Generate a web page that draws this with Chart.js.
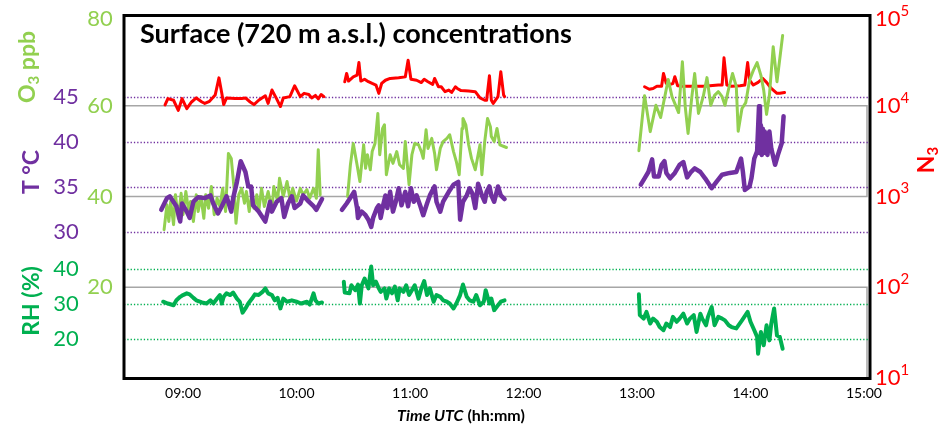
<!DOCTYPE html>
<html>
<head>
<meta charset="utf-8">
<script src="https://cdn.jsdelivr.net/npm/chart.js@4.4.0/dist/chart.umd.min.js"></script>
<style>
  html, body { margin: 0; padding: 0; background: #fff; }
  #wrap { width: 945px; height: 430px; }
</style>
</head>
<body>
<div id="wrap"><canvas id="chart" width="945" height="430"></canvas></div>
<script>
// ---- data (times UTC, null value = gap between flight legs) ----
const n3Times = [
  '08:50:30','08:52:00','08:55:00','08:57:30','08:59:30','09:02:00','09:04:30','09:07:00','09:10:00','09:11:30',
  '09:14:00','09:17:00','09:19:00','09:20:30','09:21:30','09:23:00','09:27:30','09:31:00','09:33:00','09:35:30',
  '09:37:30','09:40:00','09:43:30','09:45:00','09:47:00','09:49:30','09:51:30','09:53:00','09:56:30','09:59:00',
  '10:02:00','10:04:00','10:06:30','10:08:00','10:10:00','10:11:30','10:13:00','10:14:30',
  '10:20:00',
  '10:25:30','10:26:30','10:27:30','10:30:00','10:32:00','10:33:00','10:34:00','10:36:00','10:38:00','10:40:00',
  '10:42:00','10:43:30','10:45:00','10:47:00','10:49:30','10:54:00','10:57:30','10:59:00','11:00:30','11:03:30',
  '11:06:00','11:07:30','11:09:30','11:12:00','11:13:00','11:15:00','11:16:30','11:18:30','11:20:30','11:22:00',
  '11:24:00','11:25:00','11:27:00','11:31:00','11:34:30','11:37:00','11:39:30','11:40:30','11:42:00','11:43:00',
  '11:44:00','11:46:30','11:48:00','11:49:30','11:50:00',
  '12:30:00',
  '13:04:00','13:06:30','13:08:30','13:10:30','13:13:00','13:14:00','13:15:30','13:17:00','13:19:00','13:20:00',
  '13:21:30','13:24:30','13:28:00','13:31:30','13:35:00','13:38:30','13:43:00','13:45:00','13:46:00','13:47:30',
  '13:50:00','13:54:30','13:57:00','13:58:30','13:59:30','14:01:30','14:04:00','14:06:30','14:08:30','14:11:00',
  '14:14:00','14:15:30','14:18:00'
];
const n3Values = [
  10200,12000,11500,8900,12000,9300,11000,12200,11000,10600,
  11200,13100,20300,13700,10300,12200,12000,12000,12200,11000,
  10300,11500,12900,10600,14900,11900,9800,12200,12600,16600,
  12600,13700,13300,12200,13000,11900,13300,12600,
  null,
  18400,22700,18700,20800,21700,29900,18700,19600,18400,17600,
  16900,13700,17600,19100,20000,20300,20800,31700,19600,19100,
  18000,19600,18400,17200,20000,16200,16200,14300,14900,14000,
  16200,15500,14700,14500,14300,12200,11500,11500,21400,11500,
  10600,12600,23700,13100,12600,
  null,
  16200,15200,15500,16400,16400,22700,17600,17100,17600,20900,
  16600,16400,16400,16400,16400,16600,16900,16900,33700,16900,
  16400,16600,16900,29900,19200,16900,18100,20000,18100,15500,
  13700,13700,14000
];

const o3Times = [
  '08:50:00','08:51:30','08:52:30','08:53:30','08:55:00','08:56:00','08:57:30','08:59:00','09:00:00','09:01:30',
  '09:03:00','09:04:00','09:05:30','09:07:00','09:08:00','09:09:30','09:11:00','09:12:00','09:13:30','09:15:00',
  '09:16:30','09:18:00','09:19:30','09:21:00','09:22:30','09:24:00','09:25:30','09:27:00','09:28:00','09:29:30',
  '09:31:00','09:32:30','09:33:30','09:35:00','09:36:00','09:37:30','09:39:00','09:40:00','09:41:30','09:43:00',
  '09:45:00','09:47:00','09:48:00','09:50:00','09:51:00','09:53:00','09:55:00','09:56:30','09:58:00','10:00:00',
  '10:02:00','10:03:30','10:05:30','10:07:00','10:09:00','10:10:30','10:11:30','10:12:30',
  '10:20:00',
  '10:27:00','10:28:30','10:30:00','10:32:00','10:33:30','10:35:30','10:36:30','10:37:30','10:39:00','10:40:00',
  '10:41:30','10:43:00','10:44:00','10:45:30','10:46:30','10:47:30','10:49:30','10:51:00','10:53:00','10:54:30',
  '10:56:30','10:57:30','10:59:30','11:01:00','11:02:30','11:04:30','11:06:00','11:07:00','11:08:30','11:09:30',
  '11:11:30','11:13:00','11:14:00','11:16:00','11:17:30','11:19:30','11:21:00','11:23:00','11:24:30','11:26:00',
  '11:27:30','11:28:00','11:29:30','11:31:00','11:32:30','11:34:30','11:36:00','11:37:00','11:38:00','11:39:30',
  '11:41:00','11:42:30','11:43:00','11:44:30','11:46:00','11:47:30','11:51:00',
  '12:30:00',
  '13:01:00','13:04:00','13:07:00','13:10:00','13:12:30','13:16:30','13:18:30','13:22:00','13:24:00','13:25:30',
  '13:27:00','13:29:00','13:30:30','13:32:30','13:35:00','13:37:00','13:39:00','13:41:00','13:43:00','13:45:00',
  '13:46:30','13:48:30','13:50:30','13:52:30','13:53:30','13:55:30','13:57:30','13:59:30','14:01:30','14:03:30',
  '14:05:30','14:07:00','14:08:30','14:10:00','14:12:00','14:14:00','14:17:00'
];
const o3Values = [
  32.7,38.2,34.5,38.9,33.8,40.4,35.2,40.7,36.0,41.1,
  36.7,38.9,34.5,40.4,36.7,40.0,35.2,40.4,37.4,42.2,
  36.0,39.6,37.8,41.8,36.7,49.5,48.4,41.8,34.1,40.4,
  41.8,38.5,41.1,36.7,39.6,37.4,40.4,36.7,41.8,37.8,
  41.1,37.1,42.2,39.0,44.0,40.0,43.3,39.6,41.8,39.0,
  41.8,40.4,41.5,39.6,41.8,39.6,50.3,40.4,
  null,
  40.0,47.0,51.7,47.0,43.3,51.4,46.2,49.2,45.9,49.9,
  51.7,58.3,49.2,55.0,55.8,44.8,49.2,47.3,49.9,47.0,
  46.2,52.1,42.6,49.2,51.7,51.4,49.9,48.4,54.7,50.6,
  52.8,49.5,45.9,50.6,52.1,52.8,53.6,49.9,47.7,44.8,
  55.0,57.2,55.8,51.4,48.4,45.9,49.2,51.4,44.8,52.1,
  57.2,55.4,53.2,52.1,55.0,51.4,50.8,
  null,
  50.1,62.2,54.3,60.1,57.4,65.8,62.0,58.5,69.7,59.8,
  53.9,62.0,67.1,58.3,62.0,66.2,60.1,62.3,63.1,62.0,
  60.1,63.8,67.1,64.2,54.4,59.4,60.7,65.6,67.8,69.5,
  66.7,63.4,58.1,62.3,73.0,65.3,75.5
];

const tTimes = [
  '08:48:30','08:51:30','08:53:00','08:56:30','08:58:30','08:59:30','09:02:00','09:03:30','09:05:30','09:08:00',
  '09:11:30','09:14:30','09:16:00','09:18:30','09:20:30','09:23:00','09:25:30','09:26:30','09:28:30','09:30:30',
  '09:33:00','09:34:30','09:36:00','09:37:00','09:40:00','09:43:30','09:46:00','09:47:00','09:49:30','09:52:00',
  '09:53:30','09:55:30','09:57:30','09:59:00','10:02:00','10:03:30','10:06:30','10:09:00','10:10:30','10:13:30',
  '10:20:00',
  '10:24:00','10:26:30','10:29:00','10:30:30','10:32:00','10:32:30','10:34:30','10:36:30','10:38:00','10:39:30',
  '10:40:30','10:42:30','10:43:30','10:44:30','10:46:00','10:47:00','10:48:00','10:49:30','10:51:00','10:52:30',
  '10:54:00','10:55:30','10:57:30','10:59:00','11:00:30','11:02:00','11:03:30','11:05:30','11:07:00','11:09:00',
  '11:10:30','11:13:00','11:14:00','11:16:00','11:17:30','11:20:30','11:23:00','11:25:30','11:26:30','11:28:00',
  '11:30:00','11:31:30','11:33:00','11:34:30','11:36:00','11:38:00','11:39:30','11:40:30','11:42:00','11:43:00',
  '11:44:30','11:46:30','11:48:00','11:50:00',
  '12:30:00',
  '13:02:00','13:04:00','13:06:00','13:08:00','13:09:00','13:11:30','13:13:00','13:14:30','13:15:30','13:17:30',
  '13:20:00','13:22:30','13:24:30','13:26:30','13:28:30','13:30:30','13:33:30','13:36:00','13:39:30','13:42:00',
  '13:45:00','13:49:00','13:52:30','13:55:00','13:56:00','13:57:00','13:59:30','14:00:30','14:02:00','14:03:30',
  '14:04:30','14:05:00','14:05:30','14:06:00','14:06:30','14:07:00','14:07:30','14:08:00','14:08:30','14:09:00',
  '14:10:00','14:11:00','14:13:00','14:14:30','14:16:30','14:17:30'
];
const tValues = [
  32.5,33.8,34.0,32.9,31.2,33.2,32.3,31.6,33.4,33.9,
  33.8,34.1,33.2,32.1,32.9,34.0,32.3,33.8,35.6,37.9,
  36.7,35.1,35.1,33.0,32.3,31.2,33.4,32.3,33.4,33.8,
  31.7,33.2,34.0,32.7,33.2,34.1,33.4,32.9,32.5,33.7,
  null,
  32.5,33.2,34.0,34.5,32.7,31.6,32.3,31.9,31.4,30.6,
  31.6,32.7,33.0,31.6,33.2,34.1,32.7,34.5,32.3,33.4,
  34.9,33.0,34.5,32.9,34.9,33.4,34.1,32.9,31.9,33.2,
  34.1,35.1,33.4,32.3,33.4,34.5,35.3,35.6,31.4,33.4,
  34.1,34.9,34.3,32.7,35.4,34.1,33.4,34.5,35.1,34.1,
  33.4,35.1,34.1,33.7,
  null,
  35.3,36.0,36.7,38.1,36.2,36.2,37.5,37.9,36.6,36.0,
  36.6,37.5,37.8,36.1,36.7,37.1,36.7,36.0,34.9,35.6,
  36.4,36.6,36.7,38.2,36.7,34.7,35.1,36.0,38.2,39.0,
  44.0,38.8,41.9,38.6,41.5,39.3,41.2,38.8,41.0,38.6,
  41.2,39.3,37.5,38.6,39.9,42.9
];

const rhTimes = [
  '08:49:30','08:52:00','08:55:00','08:56:30','08:58:30','09:00:00','09:02:00','09:03:30','09:05:30','09:07:00',
  '09:10:00','09:12:30','09:14:30','09:16:00','09:18:00','09:19:30','09:20:30','09:21:30','09:23:00','09:25:00',
  '09:26:30','09:28:30','09:30:00','09:31:30','09:33:00','09:34:30','09:36:30','09:38:00','09:40:00','09:42:00',
  '09:43:30','09:45:00','09:47:00','09:48:30','09:50:00','09:51:30','09:53:00','09:55:00','09:57:30','10:00:00',
  '10:02:30','10:05:30','10:07:00','10:09:00','10:10:00','10:11:30','10:13:30',
  '10:20:00',
  '10:25:00','10:25:30','10:28:00','10:29:00','10:31:00','10:32:30','10:33:30','10:34:30','10:36:00','10:38:00',
  '10:39:30','10:40:30','10:42:00','10:43:30','10:44:30','10:46:30','10:47:30','10:49:00','10:50:30','10:52:00',
  '10:53:30','10:54:30','10:56:30','10:58:00','10:59:30','11:01:00','11:02:30','11:04:30','11:06:00','11:07:30',
  '11:09:00','11:10:30','11:12:30','11:14:00','11:16:00','11:17:30','11:19:30','11:21:00','11:23:00','11:24:30',
  '11:26:30','11:28:00','11:30:00','11:31:30','11:33:30','11:35:00','11:37:00','11:39:00','11:40:00','11:42:00',
  '11:43:00','11:44:30','11:46:30','11:48:00','11:50:00',
  '12:30:00',
  '13:01:00','13:01:30','13:03:30','13:05:00','13:07:00','13:08:30','13:10:30','13:12:00','13:14:00','13:15:30',
  '13:17:30','13:19:00','13:21:00','13:22:30','13:24:30','13:26:30','13:28:00','13:30:00','13:31:30','13:33:30',
  '13:34:30','13:36:30','13:37:30','13:39:30','13:41:00','13:43:00','13:45:00','13:46:30','13:48:30','13:50:00',
  '13:52:30','13:55:30','13:58:30','14:00:00','14:02:00','14:03:30','14:04:00','14:05:30','14:07:00','14:08:30',
  '14:10:00','14:11:00','14:12:30','14:14:00','14:15:30','14:17:00'
];
const rhValues = [
  30.6,30.1,29.6,31.0,32.0,32.5,33.0,32.7,31.7,31.0,
  30.4,30.1,31.0,30.1,31.5,32.5,30.1,32.0,33.0,32.5,
  33.2,31.5,30.6,27.5,28.7,30.1,31.5,32.7,32.5,33.4,
  34.4,33.0,32.5,31.0,31.7,28.7,31.5,30.6,31.0,30.6,
  30.1,30.6,29.8,33.0,31.0,30.1,30.4,
  null,
  36.3,33.2,33.0,35.3,33.9,35.5,30.1,35.3,37.2,34.4,
  40.6,35.3,36.3,34.4,33.4,34.4,31.5,34.4,33.0,34.9,
  31.0,34.4,33.4,35.3,32.5,33.9,35.3,31.5,34.4,36.5,
  32.5,34.4,30.6,32.5,32.0,31.0,30.6,30.1,28.7,30.1,
  32.5,35.5,32.0,31.0,30.6,32.5,29.6,30.6,33.9,30.1,
  31.5,28.2,29.6,30.6,31.0,
  null,
  32.7,26.8,25.8,27.7,24.4,25.8,24.9,23.4,22.5,24.4,
  23.4,26.3,24.9,25.8,27.2,24.4,25.8,26.8,22.0,27.2,
  25.8,23.9,26.3,29.1,23.9,26.3,25.8,25.3,23.9,23.4,
  23.0,25.3,27.7,24.9,22.5,20.6,15.8,22.0,18.2,23.9,
  19.6,24.4,28.7,21.0,20.6,17.2
];

// ---- ticks ----
const timeTicks = [9, 10, 11, 12, 13, 14, 15];
const o3Ticks = [20, 40, 60, 80];
const tTicks = [30, 35, 40, 45];
const rhTicks = [20, 30, 40];
const n3Exponents = [1, 2, 3, 4, 5];

const COL_O3 = '#92d050', COL_T = '#7030a0', COL_RH = '#00b050', COL_N3 = '#ff0000';
const FONT = 'Lato, "Open Sans", sans-serif';

function toHours(s) {
  const p = s.split(':').map(Number);
  return p[0] + p[1] / 60 + (p[2] || 0) / 3600;
}
function points(times, values) {
  return times.map((t, i) => ({ x: toHours(t), y: values[i] }));
}
function hhmm(h) {
  return String(h).padStart(2, '0') + ':00';
}

// draws text pieces one after another, each with its own font and y offset
function drawRuns(ctx, runs, x, y) {
  let cx = x;
  runs.forEach(r => {
    ctx.font = r.font;
    ctx.fillText(r.text, cx, y + (r.dy || 0));
    cx += ctx.measureText(r.text).width;
  });
}
function runsWidth(ctx, runs) {
  return runs.reduce((w, r) => { ctx.font = r.font; return w + ctx.measureText(r.text).width; }, 0);
}
function verticalTitle(ctx, runs, x, y, color) {
  ctx.save();
  ctx.translate(x, y);
  ctx.rotate(-Math.PI / 2);
  ctx.fillStyle = color;
  ctx.textBaseline = 'middle';
  ctx.textAlign = 'left';
  drawRuns(ctx, runs, -runsWidth(ctx, runs) / 2, 0);
  ctx.restore();
}

const decor = {
  id: 'decor',
  beforeDatasetsDraw(chart) {
    const { ctx, chartArea: a, scales } = chart;
    ctx.save();
    const hline = (y, color, width, dash) => {
      ctx.strokeStyle = color;
      ctx.lineWidth = width;
      ctx.setLineDash(dash);
      ctx.beginPath();
      ctx.moveTo(a.left, Math.round(y) + 0.5);
      ctx.lineTo(a.right, Math.round(y) + 0.5);
      ctx.stroke();
    };
    // grey plot-area outlines of the stacked panels
    const o3 = scales.yO3;
    ctx.strokeStyle = '#a6a6a6';
    ctx.lineWidth = 1.5;
    ctx.strokeRect(a.left, o3.getPixelForValue(60), a.right - a.left - 3, o3.getPixelForValue(40) - o3.getPixelForValue(60));
    ctx.strokeRect(a.left, o3.getPixelForValue(20), a.right - a.left - 3, o3.getPixelForValue(0) - o3.getPixelForValue(20));
    tTicks.forEach(v => hline(scales.yT.getPixelForValue(v), COL_T, 1.3, [1.3, 2]));
    rhTicks.forEach(v => hline(scales.yRH.getPixelForValue(v), COL_RH, 1.3, [1.3, 2]));
    ctx.restore();
  },
  afterDraw(chart) {
    const { ctx, chartArea: a, scales } = chart;
    ctx.save();
    // frame
    ctx.strokeStyle = '#000';
    ctx.lineWidth = 3;
    ctx.strokeRect(a.left, a.top + 0.5, a.right - a.left, a.bottom - a.top);

    // title
    ctx.fillStyle = '#000';
    ctx.textBaseline = 'alphabetic';
    ctx.textAlign = 'left';
    ctx.font = 'bold 27px ' + FONT;
    ctx.fillText('Surface (720 m a.s.l.) concentrations', 140, 43);

    // left tick labels
    ctx.textBaseline = 'middle';
    ctx.textAlign = 'center';
    ctx.font = '22px ' + FONT;
    ctx.fillStyle = COL_O3;
    o3Ticks.forEach(v => ctx.fillText(String(v), 100, Math.max(scales.yO3.getPixelForValue(v), 19)));
    ctx.fillStyle = COL_T;
    tTicks.forEach(v => ctx.fillText(String(v), 66, scales.yT.getPixelForValue(v)));
    ctx.fillStyle = COL_RH;
    rhTicks.forEach(v => ctx.fillText(String(v), 66, scales.yRH.getPixelForValue(v)));

    // right log tick labels
    ctx.textAlign = 'left';
    ctx.fillStyle = COL_N3;
    n3Exponents.forEach(e => {
      const y = Math.max(scales.yN3.getPixelForValue(Math.pow(10, e)), 19);
      drawRuns(ctx, [
        { text: '10', font: '22px ' + FONT },
        { text: String(e), font: '15px ' + FONT, dy: -8 }
      ], 875, y);
    });

    // x tick labels
    ctx.textAlign = 'center';
    ctx.fillStyle = '#000';
    ctx.font = '14px ' + FONT;
    timeTicks.forEach(h => ctx.fillText(hhmm(h), scales.x.getPixelForValue(h), 393));

    // x title
    ctx.textAlign = 'left';
    const xRuns = [
      { text: 'Time UTC', font: 'italic bold 16px ' + FONT },
      { text: ' (hh:mm)', font: 'bold 16px ' + FONT }
    ];
    drawRuns(ctx, xRuns, 461 - runsWidth(ctx, xRuns) / 2, 416);

    // axis titles
    verticalTitle(ctx, [
      { text: 'O', font: 'bold 23px ' + FONT },
      { text: '3', font: 'bold 15px ' + FONT, dy: 6 },
      { text: ' ppb', font: 'bold 23px ' + FONT }
    ], 28, 67, COL_O3);
    verticalTitle(ctx, [{ text: 'T °C', font: 'bold 23px ' + FONT }], 32, 172, COL_T);
    verticalTitle(ctx, [{ text: 'RH (%)', font: 'bold 23px ' + FONT }], 32, 301, COL_RH);
    verticalTitle(ctx, [
      { text: 'N', font: 'bold 23px ' + FONT },
      { text: '3', font: 'bold 15px ' + FONT, dy: 6 }
    ], 927, 160, COL_N3);
    ctx.restore();
  }
};

const lineStyle = { pointRadius: 0, tension: 0, spanGaps: false, borderJoinStyle: 'round', borderCapStyle: 'round', fill: false, xAxisID: 'x' };

new Chart(document.getElementById('chart'), {
  type: 'line',
  data: {
    datasets: [
      { ...lineStyle, label: 'RH', data: points(rhTimes, rhValues), yAxisID: 'yRH', borderColor: COL_RH, borderWidth: 4, order: 1 },
      { ...lineStyle, label: 'T', data: points(tTimes, tValues), yAxisID: 'yT', borderColor: COL_T, borderWidth: 4.5, order: 2 },
      { ...lineStyle, label: 'O3', data: points(o3Times, o3Values), yAxisID: 'yO3', borderColor: COL_O3, borderWidth: 3, order: 3 },
      { ...lineStyle, label: 'N3', data: points(n3Times, n3Values), yAxisID: 'yN3', borderColor: COL_N3, borderWidth: 3, order: 4 }
    ]
  },
  options: {
    responsive: false,
    animation: false,
    devicePixelRatio: 1,
    layout: { padding: { left: 124, top: 15, right: 75, bottom: 52 } },
    plugins: { legend: { display: false }, tooltip: { enabled: false } },
    scales: {
      x: { type: 'linear', axis: 'x', display: false, min: 8.48, max: 15.053 },
      yO3: { type: 'linear', axis: 'y', position: 'left', display: false, min: 0, max: 80 },
      yT: { type: 'linear', axis: 'y', position: 'left', display: false, min: 13.81, max: 54.15 },
      yRH: { type: 'linear', axis: 'y', position: 'left', display: false, min: 8.9, max: 112.2 },
      yN3: { type: 'logarithmic', axis: 'y', position: 'right', display: false, min: 10, max: 100000 }
    }
  },
  plugins: [decor]
});
</script>
</body>
</html>
